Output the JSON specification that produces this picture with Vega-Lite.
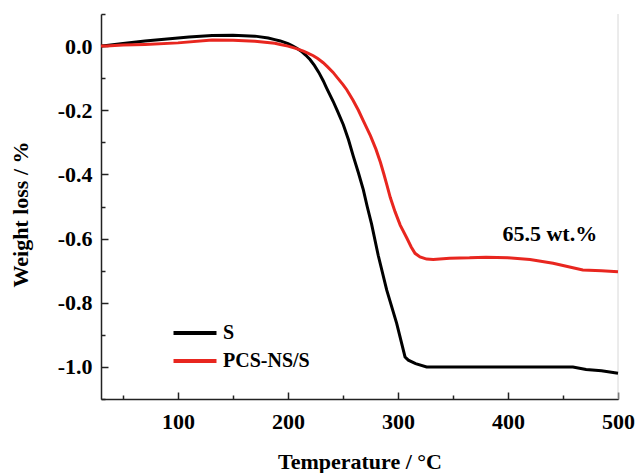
{
  "$schema": "https://vega.github.io/schema/vega-lite/v6.json",
  "autosize": "none",
  "padding": {"left": 101, "top": 14, "right": 18, "bottom": 74},
  "width": 517,
  "height": 385,
  "background": "white",
  "config": {
    "view": {"stroke": null},
    "font": "Liberation Serif",
    "axis": {
      "labelFont": "Liberation Serif", "labelFontWeight": "bold", "labelFontSize": 22, "labelColor": "#000",
      "titleFont": "Liberation Serif", "titleFontWeight": "bold", "titleFontSize": 22, "titleColor": "#000",
      "domainColor": "#222", "domainWidth": 1.5, "tickColor": "#222", "tickWidth": 1.5, "grid": false
    }
  },
  "resolve": {"axis": {"x": "independent", "y": "independent"}},
  "datasets": {
    "tga": [
      {"T": 30, "W": 0, "s": "S"}, {"T": 35, "W": 0.002, "s": "S"}, {"T": 50, "W": 0.008, "s": "S"},
      {"T": 70, "W": 0.016, "s": "S"}, {"T": 90, "W": 0.022, "s": "S"}, {"T": 110, "W": 0.028, "s": "S"},
      {"T": 131, "W": 0.033, "s": "S"}, {"T": 150, "W": 0.034, "s": "S"}, {"T": 170, "W": 0.031, "s": "S"},
      {"T": 182, "W": 0.025, "s": "S"}, {"T": 188, "W": 0.02, "s": "S"}, {"T": 193, "W": 0.016, "s": "S"},
      {"T": 200, "W": 0.008, "s": "S"}, {"T": 204, "W": 0.001, "s": "S"}, {"T": 208, "W": -0.007, "s": "S"},
      {"T": 212, "W": -0.016, "s": "S"}, {"T": 216, "W": -0.028, "s": "S"}, {"T": 220, "W": -0.042, "s": "S"},
      {"T": 224, "W": -0.06, "s": "S"}, {"T": 228, "W": -0.082, "s": "S"}, {"T": 232, "W": -0.108, "s": "S"},
      {"T": 235, "W": -0.13, "s": "S"}, {"T": 241, "W": -0.172, "s": "S"}, {"T": 245, "W": -0.203, "s": "S"},
      {"T": 250.3, "W": -0.245, "s": "S"}, {"T": 255, "W": -0.292, "s": "S"}, {"T": 259.4, "W": -0.344, "s": "S"},
      {"T": 264, "W": -0.395, "s": "S"}, {"T": 268.5, "W": -0.448, "s": "S"}, {"T": 272, "W": -0.5, "s": "S"},
      {"T": 276, "W": -0.555, "s": "S"}, {"T": 282, "W": -0.652, "s": "S"}, {"T": 289.7, "W": -0.76, "s": "S"},
      {"T": 298.8, "W": -0.864, "s": "S"}, {"T": 306.4, "W": -0.969, "s": "S"}, {"T": 309.4, "W": -0.979, "s": "S"},
      {"T": 316, "W": -0.99, "s": "S"}, {"T": 326, "W": -1.0, "s": "S"}, {"T": 340, "W": -1.0, "s": "S"},
      {"T": 380, "W": -1.0, "s": "S"}, {"T": 420, "W": -1.0, "s": "S"}, {"T": 459, "W": -1.0, "s": "S"},
      {"T": 471, "W": -1.008, "s": "S"}, {"T": 485, "W": -1.012, "s": "S"}, {"T": 500, "W": -1.02, "s": "S"},

      {"T": 30, "W": 0, "s": "PCS-NS/S"}, {"T": 35, "W": 0, "s": "PCS-NS/S"}, {"T": 50, "W": 0.003, "s": "PCS-NS/S"},
      {"T": 70, "W": 0.005, "s": "PCS-NS/S"}, {"T": 100, "W": 0.01, "s": "PCS-NS/S"}, {"T": 131, "W": 0.019, "s": "PCS-NS/S"},
      {"T": 150, "W": 0.018, "s": "PCS-NS/S"}, {"T": 170, "W": 0.015, "s": "PCS-NS/S"}, {"T": 188, "W": 0.009, "s": "PCS-NS/S"},
      {"T": 193, "W": 0.005, "s": "PCS-NS/S"}, {"T": 200, "W": 0.0, "s": "PCS-NS/S"}, {"T": 207, "W": -0.007, "s": "PCS-NS/S"},
      {"T": 214, "W": -0.016, "s": "PCS-NS/S"}, {"T": 218, "W": -0.022, "s": "PCS-NS/S"}, {"T": 223, "W": -0.03, "s": "PCS-NS/S"},
      {"T": 227, "W": -0.039, "s": "PCS-NS/S"}, {"T": 232, "W": -0.052, "s": "PCS-NS/S"}, {"T": 236, "W": -0.065, "s": "PCS-NS/S"},
      {"T": 241, "W": -0.082, "s": "PCS-NS/S"}, {"T": 245, "W": -0.099, "s": "PCS-NS/S"}, {"T": 250, "W": -0.12, "s": "PCS-NS/S"},
      {"T": 253.4, "W": -0.136, "s": "PCS-NS/S"}, {"T": 259, "W": -0.168, "s": "PCS-NS/S"}, {"T": 264, "W": -0.2, "s": "PCS-NS/S"},
      {"T": 268.5, "W": -0.233, "s": "PCS-NS/S"}, {"T": 275, "W": -0.28, "s": "PCS-NS/S"}, {"T": 280, "W": -0.322, "s": "PCS-NS/S"},
      {"T": 284, "W": -0.362, "s": "PCS-NS/S"}, {"T": 287, "W": -0.397, "s": "PCS-NS/S"}, {"T": 290, "W": -0.434, "s": "PCS-NS/S"},
      {"T": 293, "W": -0.472, "s": "PCS-NS/S"}, {"T": 297.3, "W": -0.516, "s": "PCS-NS/S"}, {"T": 302, "W": -0.558, "s": "PCS-NS/S"},
      {"T": 308, "W": -0.598, "s": "PCS-NS/S"}, {"T": 312, "W": -0.626, "s": "PCS-NS/S"}, {"T": 315.5, "W": -0.646, "s": "PCS-NS/S"},
      {"T": 320, "W": -0.657, "s": "PCS-NS/S"}, {"T": 326, "W": -0.664, "s": "PCS-NS/S"}, {"T": 332, "W": -0.665, "s": "PCS-NS/S"},
      {"T": 347, "W": -0.661, "s": "PCS-NS/S"}, {"T": 365, "W": -0.66, "s": "PCS-NS/S"}, {"T": 380, "W": -0.658, "s": "PCS-NS/S"},
      {"T": 400, "W": -0.66, "s": "PCS-NS/S"}, {"T": 420, "W": -0.665, "s": "PCS-NS/S"}, {"T": 441, "W": -0.677, "s": "PCS-NS/S"},
      {"T": 455, "W": -0.688, "s": "PCS-NS/S"}, {"T": 468, "W": -0.698, "s": "PCS-NS/S"}, {"T": 485, "W": -0.7, "s": "PCS-NS/S"},
      {"T": 500, "W": -0.703, "s": "PCS-NS/S"}
    ],
    "note": [{"T": 438, "W": -0.587, "label": "65.5 wt.%"}],
    "edge": [{"T": 500}]
  },
  "layer": [
    {
      "data": {"name": "edge"},
      "mark": {"type": "rule", "color": "#d8d8d8", "strokeWidth": 1},
      "encoding": {"x": {"field": "T", "type": "quantitative", "axis": null}}
    },
    {
      "data": {"name": "tga"},
      "mark": {"type": "line", "strokeWidth": 3},
      "encoding": {
        "x": {
          "field": "T", "type": "quantitative",
          "scale": {"domain": [30, 500], "nice": false, "zero": false},
          "axis": {
            "orient": "bottom",
            "title": "Temperature / °C",
            "values": [100, 200, 300, 400, 500],
            "tickSize": -7,
            "labelPadding": 19,
            "titlePadding": 19,
            "labelFlush": false
          }
        },
        "y": {
          "field": "W", "type": "quantitative",
          "scale": {"domain": [-1.1, 0.1], "nice": false, "zero": false},
          "axis": {
            "orient": "left",
            "title": "Weight loss / %",
            "titleY": 200,
            "values": [-1.0, -0.8, -0.6, -0.4, -0.2, 0.0],
            "labelExpr": "replace(format(datum.value, '.1f'), '\u2212', '-')",
            "tickSize": -7,
            "labelPadding": 16,
            "titlePadding": 25,
            "labelFlush": false
          }
        },
        "color": {
          "field": "s", "type": "nominal",
          "scale": {"domain": ["S", "PCS-NS/S"], "range": ["#000000", "#e8261f"]},
          "legend": {
            "title": null, "orient": "none", "legendX": 81, "legendY": 306,
            "symbolType": "M-2,0H2", "symbolSize": 462, "symbolStrokeWidth": 4,
            "labelFont": "Liberation Serif", "labelFontWeight": "bold", "labelFontSize": 20, "labelColor": "#000",
            "labelOffset": 15, "rowPadding": 5
          }
        }
      }
    },
    {
      "data": {"name": "note"},
      "mark": {"type": "text", "font": "Liberation Serif", "fontWeight": "bold", "fontSize": 22, "color": "#000", "align": "center", "baseline": "middle"},
      "encoding": {
        "x": {
          "field": "T", "type": "quantitative",
          "axis": {"orient": "bottom", "values": [50, 150, 250, 350, 450], "labels": false, "domain": false, "title": null, "tickSize": -4}
        },
        "y": {
          "field": "W", "type": "quantitative",
          "axis": {"orient": "left", "values": [-1.1, -0.9, -0.7, -0.5, -0.3, -0.1, 0.1], "labels": false, "domain": false, "title": null, "tickSize": -4}
        },
        "text": {"field": "label"}
      }
    }
  ]
}
